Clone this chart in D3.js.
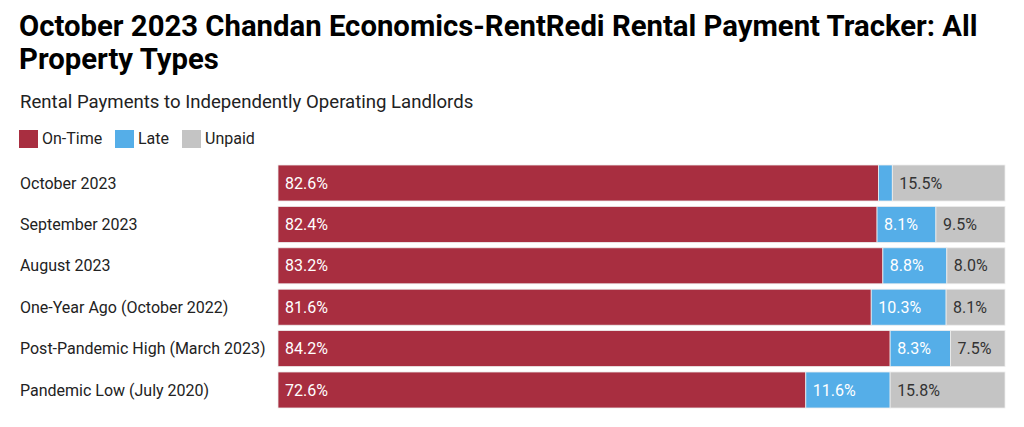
<!DOCTYPE html>
<html>
<head>
<meta charset="utf-8">
<script src="https://cdn.jsdelivr.net/npm/d3@7"></script>
<style>
  html, body { margin: 0; padding: 0; background: #fff; }
  svg { display: block; font-family: Roboto, "Noto Sans", sans-serif; }
</style>
</head>
<body>
<svg id="chart" width="1024" height="427"></svg>
<script>
const categories = [
  "October 2023",
  "September 2023",
  "August 2023",
  "One-Year Ago (October 2022)",
  "Post-Pandemic High (March 2023)",
  "Pandemic Low (July 2020)"
];
const onTime = [82.6, 82.4, 83.2, 81.6, 84.2, 72.6];
const late   = [1.9, 8.1, 8.8, 10.3, 8.3, 11.6];
const unpaid = [15.5, 9.5, 8.0, 8.1, 7.5, 15.8];
const seriesNames = ["On-Time", "Late", "Unpaid"];
const seriesColors = ["#a82e40", "#55aee8", "#c4c4c4"];
const labelColors = ["#ffffff", "#ffffff", "#333333"];

const svg = d3.select("#chart");

// Title
const title = svg.append("g");
title.append("text").attr("x", 19).attr("y", 36)
  .attr("font-size", 29.3).attr("font-weight", 700).attr("fill", "#000")
  .text("October 2023 Chandan Economics-RentRedi Rental Payment Tracker: All");
title.append("text").attr("x", 19).attr("y", 69)
  .attr("font-size", 29.3).attr("font-weight", 700).attr("fill", "#000")
  .text("Property Types");
svg.append("text").attr("x", 20).attr("y", 108)
  .attr("font-size", 18.6).attr("fill", "#222")
  .text("Rental Payments to Independently Operating Landlords");

// Legend
const legendX = [19, 115, 182];
const legend = svg.append("g");
seriesNames.forEach((n, i) => {
  legend.append("rect").attr("x", legendX[i]).attr("y", 130)
    .attr("width", 19).attr("height", 18).attr("fill", seriesColors[i]);
  legend.append("text").attr("x", legendX[i] + 23).attr("y", 144)
    .attr("font-size", 16).attr("fill", "#222").text(n);
});

// Data table
const rows = categories.map((c, i) => ({cat: c, v: [onTime[i], late[i], unpaid[i]]}));
const stacked = d3.stack().keys([0, 1, 2]).value((d, k) => d.v[k])(rows);

const x = d3.scaleLinear().domain([0, 100]).range([278, 1005]);
const y = d3.scaleBand().domain(categories).range([165, 408]).paddingInner(0.13).paddingOuter(0);

// Category labels
svg.append("g").selectAll("text").data(categories).join("text")
  .attr("x", 20)
  .attr("y", d => y(d) + y.bandwidth() / 2)
  .attr("dy", "0.35em")
  .attr("font-size", 16).attr("fill", "#222")
  .text(d => d);

// Bars
const layers = svg.append("g").selectAll("g").data(stacked).join("g")
  .attr("fill", (d, i) => seriesColors[i]);
layers.selectAll("rect").data(d => d).join("rect")
  .attr("x", d => x(d[0]))
  .attr("y", d => y(d.data.cat))
  .attr("width", d => x(d[1]) - x(d[0]))
  .attr("height", y.bandwidth())
  .attr("stroke", "#eeeeee").attr("stroke-width", 0.8);

// Value labels
const lbl = svg.append("g").selectAll("g").data(stacked).join("g")
  .attr("fill", (d, i) => labelColors[i]);
lbl.selectAll("text").data(d => d.filter(p => x(p[1]) - x(p[0]) > 30)).join("text")
  .attr("x", d => x(d[0]) + 7)
  .attr("y", d => y(d.data.cat) + y.bandwidth() / 2)
  .attr("dy", "0.35em")
  .attr("font-size", 16)
  .text(d => (d[1] - d[0]).toFixed(1) + "%");
</script>
</body>
</html>
